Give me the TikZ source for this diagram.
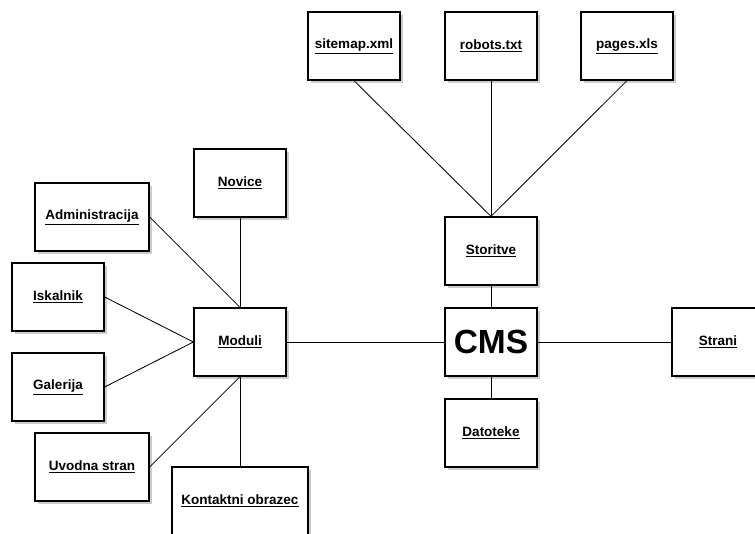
\documentclass[tikz,border=0pt]{standalone}
\usepackage{fontspec}
\setmainfont{Liberation Sans}
\usetikzlibrary{shadows}
\begin{document}
\begin{tikzpicture}[x=0.025cm,y=-0.025cm,
	box/.style={draw, line width=.9pt, fill=white, minimum width=92*0.025cm, minimum height=68*0.025cm, inner sep=0pt,
		font=\fontsize{9.6}{11}\selectfont\bfseries,
		drop shadow={shadow xshift=2pt, shadow yshift=-2pt, fill=black!40}},
	wide/.style={box, minimum width=114*0.025cm},
	link/.style={line width=.6pt}]
	\useasboundingbox (0,0) rectangle (755,533);
	
	% CMS and its parts
	\node[box, line width=1.5pt, font=\fontsize{23.8}{27}\selectfont\bfseries] (cms) at (491,342){CMS};
	\node[box] (storitve) at (491,251){\underline{Storitve}};
	\node[box] (datoteke) at (491,433){\underline{Datoteke}};
	\node[box] (strani) at (718,342){\underline{Strani}};
	\node[box] (sitemap) at (354,46){\underline{sitemap.xml}};
	\node[box] (robots) at (491,46){\underline{robots.txt}};
	\node[box] (pages) at (627,46){\underline{pages.xls}};
	
	% modules
	\node[box] (moduli) at (240,342){\underline{Moduli}};
	\node[box] (novice) at (240,183){\underline{Novice}};
	\node[wide] (admin) at (92,217){\underline{Administracija}};
	\node[box] (iskalnik) at (58,297){\underline{Iskalnik}};
	\node[box] (galerija) at (58,387){\underline{Galerija}};
	\node[wide] (uvodna) at (92,467){\underline{Uvodna stran}};
	\node[box, minimum width=136*0.025cm] (kontakt) at (240,501){\underline{Kontaktni obrazec}};
	
	\draw[link] (sitemap.south) -- (storitve.north);
	\draw[link] (robots.south) -- (storitve.north);
	\draw[link] (pages.south) -- (storitve.north);
	\draw[link] (storitve) -- (cms);
	\draw[link] (cms) -- (datoteke);
	\draw[link] (cms) -- (strani);
	\draw[link] (moduli) -- (cms);
	
	\draw[link] (novice) -- (moduli);
	\draw[link] (admin.east) -- (moduli.north);
	\draw[link] (iskalnik.east) -- (moduli.west);
	\draw[link] (galerija.east) -- (moduli.west);
	\draw[link] (uvodna.east) -- (moduli.south);
	\draw[link] (kontakt) -- (moduli);
\end{tikzpicture}
\end{document}
